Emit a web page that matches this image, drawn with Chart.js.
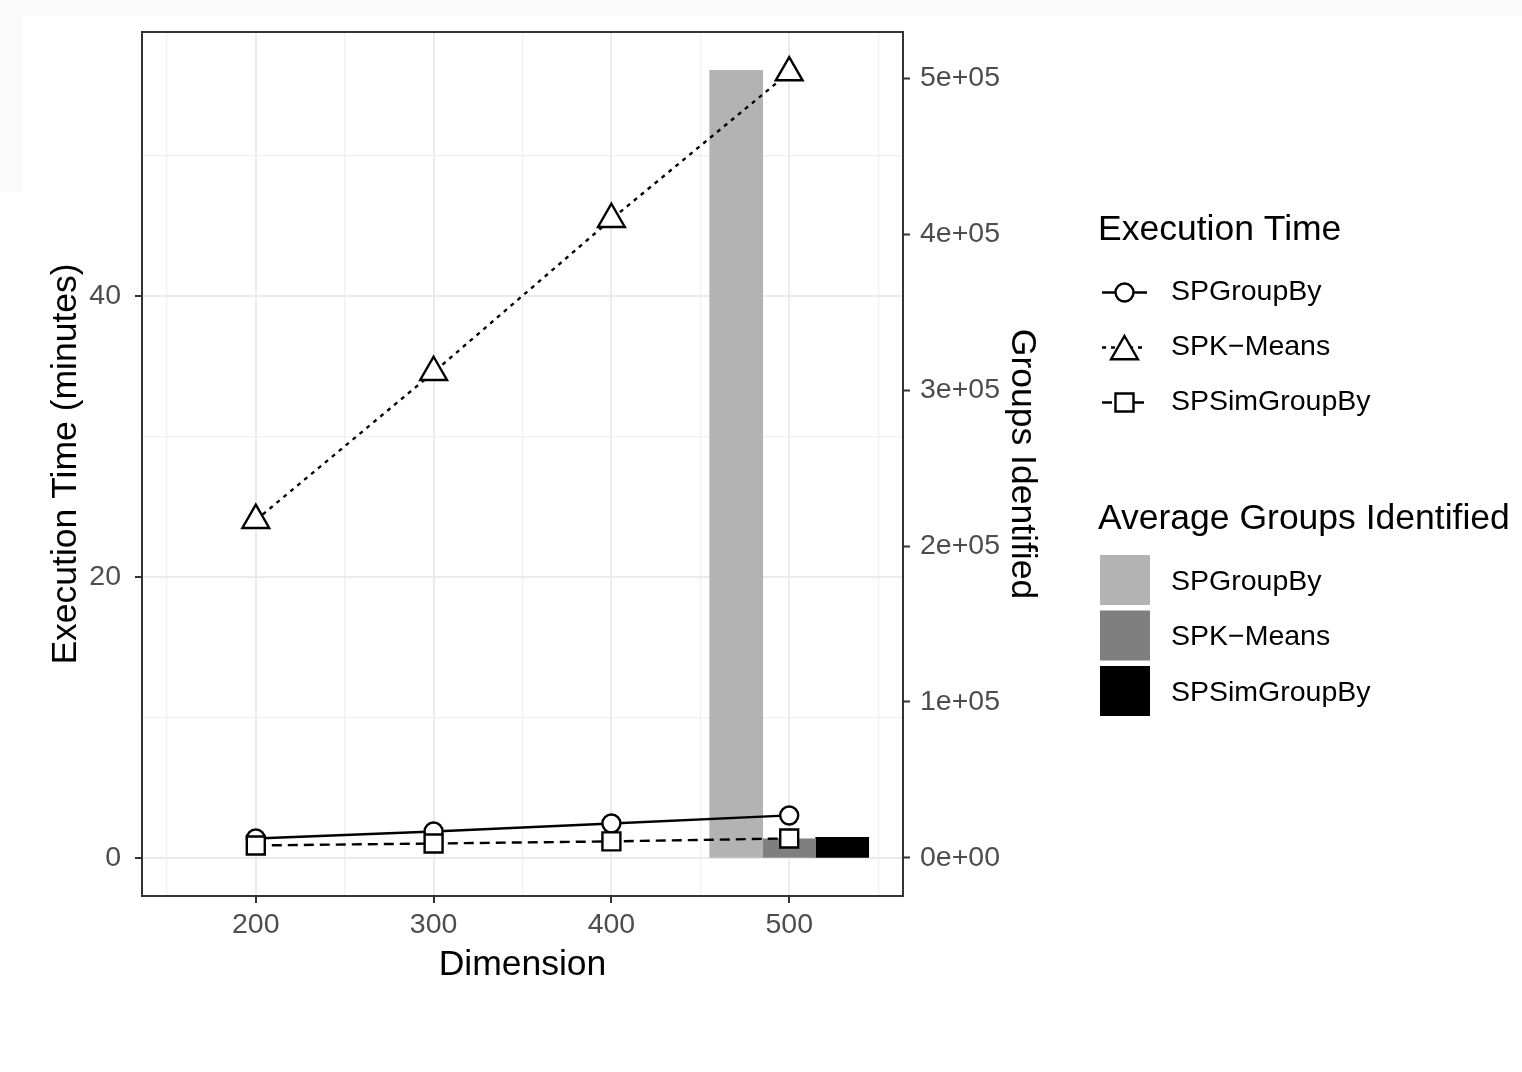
<!DOCTYPE html>
<html>
<head>
<meta charset="utf-8">
<script src="https://cdn.jsdelivr.net/npm/chart.js"></script>
<style>
  html, body { margin: 0; padding: 0; background: #fff; }
  #stripTop { position: absolute; left: 0; top: 0; width: 1522px; height: 16px; background: #fafafa; }
  #stripLeft { position: absolute; left: 0; top: 0; width: 22px; height: 192px; background: #fafafa; }
  #myChart { position: absolute; left: 0; top: 0; }
</style>
</head>
<body>
<div id="stripTop"></div>
<div id="stripLeft"></div>
<canvas id="myChart" width="1522" height="1072"></canvas>
<script>
// data
const dimensions = [200, 300, 400, 500];
const spGroupByTime = [1.39, 1.89, 2.46, 3.03];
const spKMeansTime = [24.06, 34.6, 45.5, 55.95];
const spSimGroupByTime = [0.89, 1.03, 1.18, 1.39];

const methods = ['SPGroupBy', 'SPK\u2212Means', 'SPSimGroupBy'];
const groupsDimension = 500;
const avgGroups = [505000, 12300, 13300];

const xTickLabels = [200, 300, 400, 500];
const yTickLabels = [0, 20, 40];
const y2TickLabels = [0, 100000, 200000, 300000, 400000, 500000];

const fontFamily = "'Liberation Sans', Arial, Helvetica, sans-serif";
const lineDashes = [[], [4, 5], [10, 6]];
const pointStyles = ['circle', 'triangle', 'rect'];
const pointSizes = [9, 15.5, 12.7];
const barColors = ['#b3b3b3', '#7f7f7f', '#000000'];
const strokeW = 2.4;

const yMin = -2.71;
const yMax = 58.84;
const groupsPerMinute = 9000;   // secondary axis transform

function toPoints(values) {
  return dimensions.map((d, i) => ({ x: d, y: values[i] }));
}

function sciLabel(v) {
  if (v === 0) return '0e+00';
  const exp = Math.floor(Math.log10(v));
  const mant = Math.round(v / Math.pow(10, exp));
  return mant + 'e+' + String(exp).padStart(2, '0');
}

function isMajor(list) {
  return c => c.tick && list.includes(c.tick.value);
}
const majorX = isMajor(xTickLabels);
const majorY = isMajor(yTickLabels);

// markers for the hand drawn legend
function drawMarker(ctx, style, x, y) {
  ctx.beginPath();
  if (style === 'circle') {
    ctx.arc(x, y, 9, 0, Math.PI * 2);
  } else if (style === 'triangle') {
    const r = 15.5;
    ctx.moveTo(x, y - r);
    ctx.lineTo(x + r * Math.sqrt(3) / 2, y + r / 2);
    ctx.lineTo(x - r * Math.sqrt(3) / 2, y + r / 2);
    ctx.closePath();
  } else {
    ctx.rect(x - 9, y - 9, 18, 18);
  }
  ctx.setLineDash([]);
  ctx.fillStyle = '#fff';
  ctx.fill();
  ctx.lineWidth = strokeW;
  ctx.strokeStyle = '#000';
  ctx.stroke();
}

const ggExtras = {
  id: 'ggExtras',
  afterDraw(chart) {
    const ctx = chart.ctx;
    const a = chart.chartArea;
    ctx.save();

    // panel border
    ctx.strokeStyle = '#333';
    ctx.lineWidth = 2;
    ctx.setLineDash([]);
    ctx.strokeRect(a.left, a.top, a.right - a.left, a.bottom - a.top);

    ctx.textBaseline = 'middle';
    ctx.textAlign = 'left';
    ctx.fillStyle = '#000';

    // legend: execution time
    ctx.font = '35.5px ' + fontFamily;
    ctx.fillText('Execution Time', 1098, 230.5);
    const lineRows = [292.5, 347.5, 402.5];
    methods.forEach((m, i) => {
      const y = lineRows[i];
      ctx.beginPath();
      ctx.setLineDash(lineDashes[i]);
      ctx.lineWidth = strokeW;
      ctx.strokeStyle = '#000';
      ctx.moveTo(1102, y);
      ctx.lineTo(1147, y);
      ctx.stroke();
      drawMarker(ctx, pointStyles[i], 1124.5, i === 1 ? y + 4 : y);
      ctx.fillStyle = '#000';
      ctx.font = '28.5px ' + fontFamily;
      ctx.fillText(m, 1171, y);
    });

    // legend: average groups
    ctx.font = '35.5px ' + fontFamily;
    ctx.fillText('Average Groups Identified', 1098, 519);
    const boxTops = [555, 610.5, 666];
    const barRows = [582.5, 637.5, 693.5];
    methods.forEach((m, i) => {
      ctx.fillStyle = barColors[i];
      ctx.fillRect(1100, boxTops[i], 50, 50);
      ctx.fillStyle = '#000';
      ctx.font = '28.5px ' + fontFamily;
      ctx.fillText(m, 1171, barRows[i]);
    });

    ctx.restore();
  }
};

const lineDatasets = [spGroupByTime, spKMeansTime, spSimGroupByTime].map((vals, i) => ({
  type: 'line',
  label: methods[i],
  data: toPoints(vals),
  xAxisID: 'x',
  yAxisID: 'y',
  borderColor: '#000',
  borderWidth: strokeW,
  borderDash: lineDashes[i],
  pointStyle: pointStyles[i],
  pointRadius: pointSizes[i],
  pointBorderWidth: strokeW,
  pointBorderColor: '#000',
  pointBackgroundColor: '#fff',
  tension: 0,
  fill: false,
  order: 3 - i,
}));

const barDatasets = avgGroups.map((v, i) => ({
  type: 'bar',
  label: methods[i],
  data: [{ x: groupsDimension, y: v }],
  xAxisID: 'x',
  yAxisID: 'y2',
  backgroundColor: barColors[i],
  borderWidth: 0,
  barThickness: 53,
  order: 10,
}));

const ctx = document.getElementById('myChart').getContext('2d');
const tickFont = { family: fontFamily, size: 28.5 };
const titleFont = { family: fontFamily, size: 35.5 };

const chart = new Chart(ctx, {
  type: 'line',
  data: { datasets: [...barDatasets, ...lineDatasets] },
  options: {
    responsive: false,
    animation: false,
    devicePixelRatio: 1,
    layout: { padding: { left: 0, top: 32, right: 479, bottom: 76 } },
    plugins: {
      legend: { display: false },
      tooltip: { enabled: false },
    },
    scales: {
      x: {
        type: 'linear',
        position: 'bottom',
        min: 136,
        max: 564,
        offset: false,
        afterFit: s => { s.height = 100; },
        ticks: {
          stepSize: 50,
          includeBounds: false,
          autoSkip: false,
          maxRotation: 0,
          padding: 5,
          color: '#4d4d4d',
          font: tickFont,
          callback: v => xTickLabels.includes(v) ? String(v) : '',
        },
        grid: {
          offset: false,
          color: c => majorX(c) ? '#ebebeb' : '#f0f0f0',
          lineWidth: c => majorX(c) ? 2 : 1.2,
          tickLength: 7,
          tickColor: c => majorX(c) ? '#333' : 'rgba(0,0,0,0)',
          tickWidth: 2,
        },
        border: { display: false },
        title: {
          display: true,
          text: 'Dimension',
          color: '#000',
          font: titleFont,
          padding: { top: 0, bottom: 9 },
        },
      },
      y: {
        type: 'linear',
        position: 'left',
        min: yMin,
        max: yMax,
        afterFit: s => { s.width = 142; },
        ticks: {
          stepSize: 10,
          includeBounds: false,
          autoSkip: false,
          padding: 14,
          color: '#4d4d4d',
          font: tickFont,
          callback: v => yTickLabels.includes(v) ? String(v) : '',
        },
        grid: {
          color: c => majorY(c) ? '#ebebeb' : '#f0f0f0',
          lineWidth: c => majorY(c) ? 2 : 1.2,
          tickLength: 7,
          tickColor: c => majorY(c) ? '#333' : 'rgba(0,0,0,0)',
          tickWidth: 2,
        },
        border: { display: false },
        title: {
          display: true,
          text: 'Execution Time (minutes)',
          color: '#000',
          font: titleFont,
          padding: { top: 45, bottom: 0 },
        },
      },
      y2: {
        type: 'linear',
        position: 'right',
        min: yMin * groupsPerMinute,
        max: yMax * groupsPerMinute,
        afterFit: s => { s.width = 140; },
        afterBuildTicks: s => { s.ticks = y2TickLabels.map(v => ({ value: v })); },
        ticks: {
          autoSkip: false,
          padding: 10,
          color: '#4d4d4d',
          font: tickFont,
          callback: v => sciLabel(v),
        },
        grid: {
          drawOnChartArea: false,
          tickLength: 7,
          tickColor: '#333',
          tickWidth: 2,
        },
        border: { display: false },
        title: {
          display: true,
          text: 'Groups Identified',
          color: '#000',
          font: titleFont,
          padding: { top: 0, bottom: 0 },
        },
      },
    },
  },
  plugins: [ggExtras],
});
</script>
</body>
</html>
